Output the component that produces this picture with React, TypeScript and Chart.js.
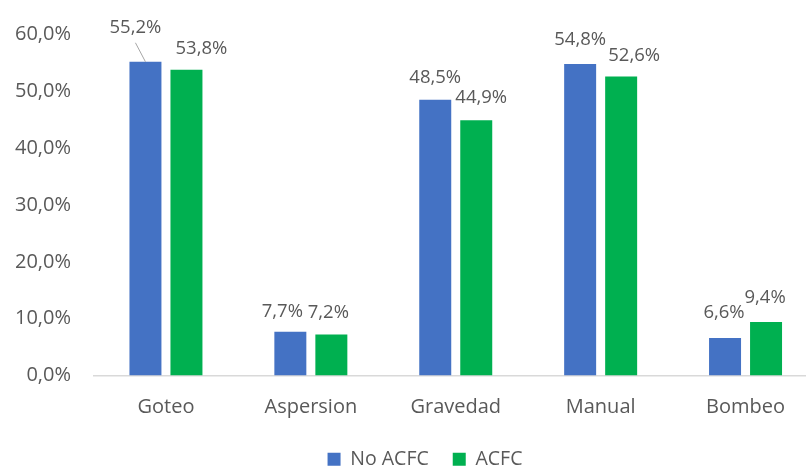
import React, { useEffect, useRef } from "react";
import { Chart, registerables } from "chart.js";

Chart.register(...registerables);

const categories = ["Goteo", "Aspersion", "Gravedad", "Manual", "Bombeo"];
const noAcfc = [55.2, 7.7, 48.5, 54.8, 6.6];
const acfc = [53.8, 7.2, 44.9, 52.6, 9.4];
const yTicks = [0, 10, 20, 30, 40, 50, 60];
const seriesNames = ["No ACFC", "ACFC"];

const FONT = "'Open Sans', 'Liberation Sans', sans-serif";
const TEXT = "#595959";

// label nudges [dx, dy] relative to the bar's top-centre, per series
const labelNudges = [
  [[-10, -34], [-8, -20], [0, -22], [0, -24], [-1, -25]],
  [[15, -21], [-3, -22], [5, -23], [13, -21], [-1, -24]],
];

const fmt = (v: number) => v.toFixed(1).replace(".", ",") + "%";

const dataLabels = {
  id: "dataLabels",
  afterLayout(chart: any) {
    // centre the legend as in the original (chart is wider than the view)
    if (chart.legend) {
      chart.legend.left += 16;
      chart.legend.right += 16;
    }
  },
  afterDatasetsDraw(chart: any) {
    const ctx = chart.ctx;
    ctx.save();
    ctx.font = `18.5px ${FONT}`;
    ctx.fillStyle = TEXT;
    ctx.textAlign = "center";
    ctx.textBaseline = "middle";
    chart.data.datasets.forEach((ds: any, di: number) => {
      const meta = chart.getDatasetMeta(di);
      meta.data.forEach((el: any, i: number) => {
        const [dx, dy] = labelNudges[di][i];
        const lx = el.x + dx;
        const ly = el.y + dy;
        ctx.fillText(fmt(ds.data[i]), lx, ly);
        if (dy < -30) {
          ctx.strokeStyle = "#a6a6a6";
          ctx.lineWidth = 1;
          ctx.beginPath();
          ctx.moveTo(lx, ly + 15);
          ctx.lineTo(el.x, el.y);
          ctx.stroke();
        }
      });
    });
    ctx.restore();
  },
};

export default function App() {
  const ref = useRef<HTMLCanvasElement | null>(null);
  useEffect(() => {
    if (!ref.current) return;
    const chart = new Chart(ref.current, {
      type: "bar",
      data: {
        labels: categories,
        datasets: [
          {
            label: seriesNames[0],
            data: noAcfc,
            backgroundColor: "#4472C4",
            categoryPercentage: 0.566,
            barPercentage: 0.78,
          },
          {
            label: seriesNames[1],
            data: acfc,
            backgroundColor: "#00B050",
            categoryPercentage: 0.566,
            barPercentage: 0.78,
          },
        ],
      },
      options: {
        responsive: false,
        animation: false,
        devicePixelRatio: 1,
        layout: { padding: { left: 0, right: 0, top: 32, bottom: 0 } },
        plugins: {
          tooltip: { enabled: false },
          legend: {
            position: "bottom",
            labels: {
              boxWidth: 13,
              boxHeight: 13,
              padding: 24,
              color: TEXT,
              font: { family: FONT, size: 19.5 },
            },
          },
        },
        scales: {
          x: {
            grid: { display: false, drawTicks: false },
            border: { display: true, color: "#d9d9d9", width: 1.5 },
            ticks: { color: TEXT, font: { family: FONT, size: 20 }, padding: 20 },
            afterFit: (s: any) => {
              s.height = 50;
            },
          },
          y: {
            min: 0,
            max: 60,
            grid: { display: false, drawTicks: false },
            border: { display: false },
            afterBuildTicks: (s: any) => {
              s.ticks = yTicks.map((v) => ({ value: v }));
            },
            ticks: {
              color: TEXT,
              font: { family: FONT, size: 20 },
              padding: 22.5,
              callback: (v: any) => fmt(Number(v)),
            },
            afterFit: (s: any) => {
              s.width = 93.5;
            },
          },
        },
      },
      plugins: [dataLabels],
    });
    return () => chart.destroy();
  }, []);
  return (
    <div
      style={{
        position: "fixed",
        left: 0,
        top: 0,
        width: 806,
        height: 468,
        overflow: "hidden",
        background: "#fff",
      }}
    >
      <canvas ref={ref} width={818} height={479} style={{ display: "block" }} />
    </div>
  );
}
